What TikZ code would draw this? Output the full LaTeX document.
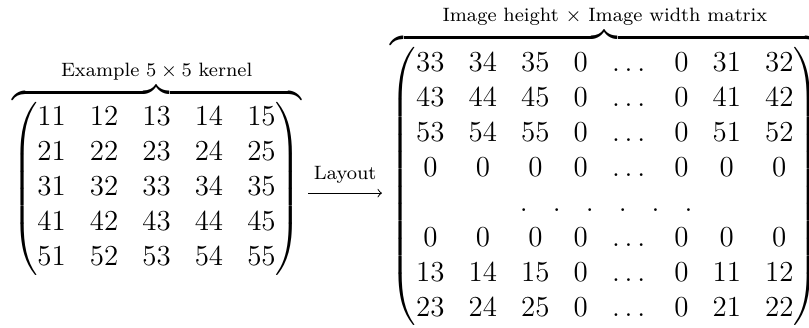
\documentclass[tikz,border=0pt]{standalone}
\usepackage{amsmath}
\begin{document}
\begin{tikzpicture}[x=1pt,y=1pt,
  every node/.style={inner sep=0pt, outer sep=0pt, font=\fontsize{12}{14.5}\selectfont},
  lbl/.style={font=\fontsize{8}{9.5}\selectfont},
  conn/.style={->, line width=0.4pt}]
\useasboundingbox (0,0) rectangle (335.1,-135.5);
\node[anchor=base west] (kernel) at (5,-81.2) {$\overbrace{\begin{pmatrix}
11&12&13&14&15\\
21&22&23&24&25\\
31&32&33&34&35\\
41&42&43&44&45\\
51&52&53&54&55
\end{pmatrix}}^{\text{Example $5\times 5$ kernel}}$};
\node[anchor=base east] (image) at (339.2,-80.3) {$\overbrace{\begin{pmatrix}
33&34&35&0&\dots&0&31&32\\
43&44&45&0&\dots&0&41&42\\
53&54&55&0&\dots&0&51&52\\
0&0&0&0&\dots&0&0&0\\
\multicolumn{8}{c}{\hspace{1.2pt}.\hspace{10.4pt}.\hspace{10.4pt}.\hspace{10.4pt}.\hspace{10.4pt}.\hspace{10.4pt}.}\\
0&0&0&0&\dots&0&0&0\\
13&14&15&0&\dots&0&11&12\\
23&24&25&0&\dots&0&21&22
\end{pmatrix}}^{\text{Image height $\times$ Image width matrix}}$};
\coordinate (axisy) at (0,-80);
\draw[conn] ([xshift=3pt]kernel.east |- axisy) -- node[lbl, anchor=base, yshift=5.5pt] (layout) {Layout} ([xshift=-3.7pt]image.west |- axisy);
\end{tikzpicture}
\end{document}
